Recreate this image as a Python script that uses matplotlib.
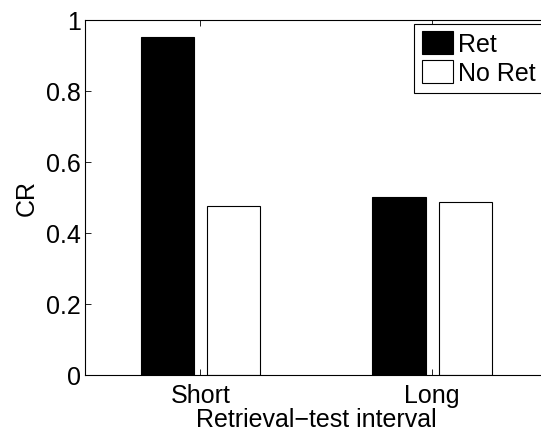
import numpy as np
import matplotlib
matplotlib.use('Agg')
from matplotlib import rcParams, pyplot as pp

rcParams['font.family'] = ['Liberation Sans', 'DejaVu Sans']
rcParams['font.size'] = 18

# CR per retrieval-test interval, with and without retrieval
intervals = ['Short', 'Long']
ret = [0.951, 0.501]
no_ret = [0.476, 0.487]
series_names = ['Ret', 'No Ret']

fig = pp.figure(figsize=(5.41, 4.31), dpi=100)
# axes run past the right edge, so the legend and right spine get clipped
ax = fig.add_axes([0.1566, 0.128, 0.856, 0.824])

x = np.arange(1, len(intervals) + 1)
w = 0.23
ax.bar(x - 0.143, ret, w, color='k', edgecolor='k', linewidth=0.8, label=series_names[0])
ax.bar(x + 0.143, no_ret, w, color='w', edgecolor='k', linewidth=0.8, label=series_names[1])

ax.set_xlim(0.5, 2.5)
ax.set_ylim(0, 1)
ax.set_xticks(x)
ax.set_xticklabels(intervals)
ax.set_yticks(np.arange(0, 1.01, 0.2))
ax.set_yticklabels(['0', '0.2', '0.4', '0.6', '0.8', '1'])
ax.tick_params(direction='in', top=True, right=True, length=4, width=0.6)
ax.tick_params(axis='y', pad=3)
ax.tick_params(axis='x', pad=6)
for s in ax.spines.values():
	s.set_linewidth(0.8)
ax.set_ylabel('CR', labelpad=5)
ax.set_xlabel('Retrieval\u2212test interval', labelpad=0)

leg = ax.legend(loc='upper left', bbox_to_anchor=(414/541., 1 - 24.7/431.),
	bbox_transform=fig.transFigure, fancybox=False, framealpha=1,
	edgecolor='k', handlelength=1.24, handleheight=1.04, handletextpad=0.2,
	labelspacing=0.15, borderpad=0.3, borderaxespad=0)
leg.get_frame().set_linewidth(0.8)

fig.savefig('out.png', dpi=100)
